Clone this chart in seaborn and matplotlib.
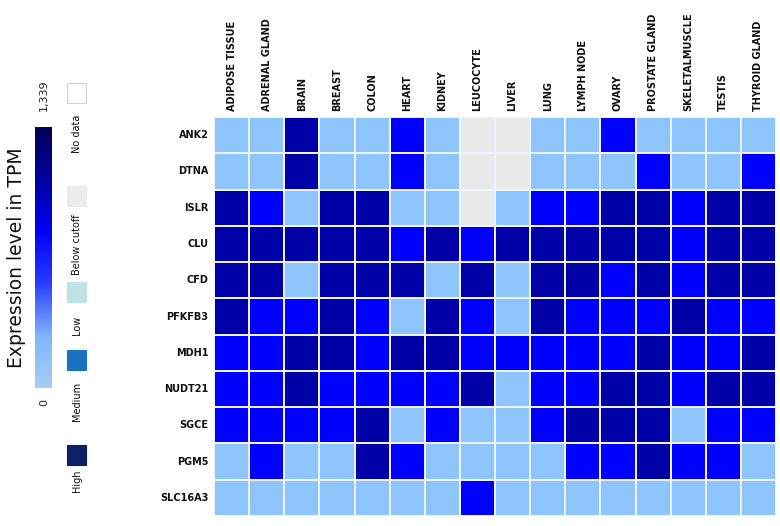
import matplotlib
matplotlib.use("Agg")
import matplotlib.pyplot as plt
import numpy as np
import pandas as pd
import seaborn as sns
from matplotlib.colors import ListedColormap, LinearSegmentedColormap, Normalize
from matplotlib.colorbar import ColorbarBase
from matplotlib.patches import Rectangle

# ---------------------------------------------------------------------------
# Data: expression level class per gene / tissue
# 0 = below cutoff, 1 = low, 2 = medium, 3 = high
# ---------------------------------------------------------------------------

tissues = ["ADIPOSE TISSUE", "ADRENAL GLAND", "BRAIN", "BREAST", "COLON", "HEART",
           "KIDNEY", "LEUCOCYTE", "LIVER", "LUNG", "LYMPH NODE", "OVARY",
           "PROSTATE GLAND", "SKELETALMUSCLE", "TESTIS", "THYROID GLAND"]

genes = ["ANK2", "DTNA", "ISLR", "CLU", "CFD", "PFKFB3", "MDH1", "NUDT21",
         "SGCE", "PGM5", "SLC16A3"]

ank2    = [1, 1, 3, 1, 1, 2, 1, 0, 0, 1, 1, 2, 1, 1, 1, 1]
dtna    = [1, 1, 3, 1, 1, 2, 1, 0, 0, 1, 1, 1, 2, 1, 1, 2]
islr    = [3, 2, 1, 3, 3, 1, 1, 0, 1, 2, 2, 3, 3, 2, 3, 3]
clu     = [3, 3, 3, 3, 3, 2, 3, 2, 3, 3, 3, 3, 3, 2, 3, 3]
cfd     = [3, 3, 1, 3, 3, 3, 1, 3, 1, 3, 3, 2, 3, 2, 3, 3]
pfkfb3  = [3, 2, 2, 3, 2, 1, 3, 2, 1, 3, 2, 2, 2, 3, 2, 2]
mdh1    = [2, 2, 3, 3, 2, 3, 3, 2, 2, 2, 2, 2, 3, 2, 2, 3]
nudt21  = [2, 2, 3, 2, 2, 2, 2, 3, 1, 2, 2, 3, 3, 2, 3, 3]
sgce    = [2, 2, 2, 2, 3, 1, 2, 1, 1, 2, 3, 3, 3, 1, 2, 2]
pgm5    = [1, 2, 1, 1, 3, 2, 1, 1, 1, 1, 2, 2, 3, 2, 2, 1]
slc16a3 = [1, 1, 1, 1, 1, 1, 1, 2, 1, 1, 1, 1, 1, 1, 1, 1]

level_colors = ["#e9e9e9", "#8ec5fd", "#0000fe", "#0000a8"]

tpm_min, tpm_max = 0, 1339
cbar_colors = ["#a7cdf0", "#7fb5fb", "#2a3cff", "#0000f5", "#0000a0", "#000058"]

legend_labels = ["No data", "Below cutoff", "Low", "Medium", "High"]
legend_colors = ["#ffffff", "#ececec", "#bfe3e5", "#1b72c0", "#0e1f66"]

df = pd.DataFrame([ank2, dtna, islr, clu, cfd, pfkfb3, mdh1, nudt21, sgce, pgm5, slc16a3],
                  index=genes, columns=tissues)

# ---------------------------------------------------------------------------
# Figure
# ---------------------------------------------------------------------------

W, H = 780, 526
fig = plt.figure(figsize=(W / 100, H / 100), dpi=100)
fig.patch.set_facecolor("white")

ax = fig.add_axes([214 / W, (H - 516) / H, 562 / W, 399 / H])
sns.heatmap(df, cmap=ListedColormap(level_colors), vmin=-0.5, vmax=3.5,
            cbar=False, linewidths=1.1, linecolor="#eef3ff", ax=ax)
ax.xaxis.tick_top()
ax.set_xlabel("")
ax.set_ylabel("")
ax.tick_params(length=0, pad=4)
plt.setp(ax.get_xticklabels(), rotation=90, ha="center", va="bottom",
         fontsize=7, fontweight="bold", color="#111111")
plt.setp(ax.get_yticklabels(), rotation=0, fontsize=7, fontweight="bold",
         color="#111111")

# colorbar on the left
cax = fig.add_axes([35 / W, (H - 388) / H, 17 / W, 261 / H])
cmap = LinearSegmentedColormap.from_list("tpm", cbar_colors)
cb = ColorbarBase(cax, cmap=cmap, norm=Normalize(tpm_min, tpm_max), orientation="vertical")
cb.outline.set_visible(False)
cax.set_xticks([])
cax.set_yticks([])

# overlay in pixel coordinates for text and legend swatches
ov = fig.add_axes([0, 0, 1, 1])
ov.set_xlim(0, W)
ov.set_ylim(H, 0)
ov.axis("off")

ov.text(17, 258, "Expression level in TPM", rotation=90, ha="center", va="center",
        fontsize=13.5, color="#111111")
ov.text(44, 95, f"{tpm_max:,}", rotation=90, ha="center", va="center", fontsize=8,
        color="#222222")
ov.text(44, 403, f"{tpm_min}", rotation=90, ha="center", va="center", fontsize=8,
        color="#222222")

sq_top = [83, 186, 282, 350, 445]
txt_mid = [134, 245, 325, 401, 481]
for label, color, y0, ty in zip(legend_labels, legend_colors, sq_top, txt_mid):
    ov.add_patch(Rectangle((67, y0), 19, 20, facecolor=color,
                           edgecolor="#c9d4dc" if label == "No data" else color, lw=0.8))
    ov.text(77, ty, label, rotation=90, ha="center", va="center", fontsize=7,
            color="#111111")

fig.savefig("out.png", dpi=100, facecolor="white")
